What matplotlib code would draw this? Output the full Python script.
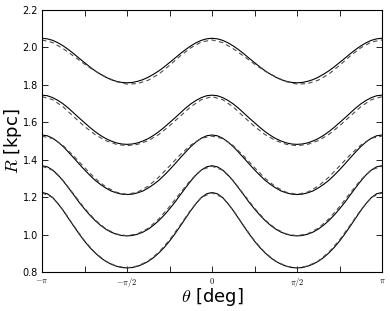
import numpy as np
import matplotlib
matplotlib.use("Agg")
import matplotlib.pyplot as plt

plt.rcParams['mathtext.fontset'] = 'cm'

# angle samples for the solid curves, -pi .. pi in steps of pi/32
theta = np.linspace(-np.pi, np.pi, 65)
# angle samples for the dashed curves, steps of pi/16
theta_d = np.linspace(-np.pi, np.pi, 33)

# solid curves, one period -pi .. 0 written out, then repeated to pi
r1_half = [2.049, 2.046, 2.038, 2.025, 2.008, 1.988, 1.966, 1.942, 1.919, 1.896, 1.875, 1.857, 1.841, 1.828, 1.819, 1.813,
           1.811, 1.813, 1.819, 1.828, 1.841, 1.857, 1.875, 1.896, 1.919, 1.942, 1.966, 1.988, 2.008, 2.025, 2.038, 2.046]
r2_half = [1.745, 1.742, 1.732, 1.717, 1.698, 1.675, 1.649, 1.623, 1.598, 1.573, 1.550, 1.530, 1.513, 1.500, 1.490, 1.484,
           1.482, 1.484, 1.490, 1.500, 1.513, 1.530, 1.550, 1.573, 1.598, 1.623, 1.649, 1.675, 1.698, 1.717, 1.732, 1.742]
r3_half = [1.532, 1.528, 1.515, 1.495, 1.470, 1.440, 1.409, 1.377, 1.346, 1.317, 1.290, 1.268, 1.249, 1.233, 1.223, 1.216,
           1.214, 1.216, 1.223, 1.233, 1.249, 1.268, 1.290, 1.317, 1.346, 1.377, 1.409, 1.440, 1.470, 1.495, 1.515, 1.528]
r4_half = [1.368, 1.362, 1.345, 1.319, 1.286, 1.249, 1.211, 1.172, 1.137, 1.104, 1.075, 1.050, 1.029, 1.013, 1.002, 0.995,
           0.993, 0.995, 1.002, 1.013, 1.029, 1.050, 1.075, 1.104, 1.137, 1.172, 1.211, 1.249, 1.286, 1.319, 1.345, 1.362]
r5_half = [1.225, 1.218, 1.198, 1.166, 1.128, 1.086, 1.044, 1.003, 0.965, 0.931, 0.902, 0.877, 0.857, 0.842, 0.831, 0.824,
           0.822, 0.824, 0.831, 0.842, 0.857, 0.877, 0.902, 0.931, 0.965, 1.003, 1.044, 1.086, 1.128, 1.166, 1.198, 1.218]

# dashed curves, -pi .. pi
d1 = [2.040, 2.026, 1.993, 1.953, 1.911, 1.873, 1.843, 1.817, 1.804, 1.807, 1.825, 1.858, 1.904, 1.954, 1.998, 2.029,
      2.040, 2.026, 1.993, 1.953, 1.911, 1.873, 1.843, 1.817, 1.804, 1.807, 1.825, 1.858, 1.904, 1.954, 1.998, 2.029, 2.040]
d2 = [1.737, 1.721, 1.682, 1.629, 1.578, 1.534, 1.502, 1.482, 1.475, 1.482, 1.502, 1.535, 1.581, 1.632, 1.683, 1.721,
      1.737, 1.721, 1.682, 1.629, 1.578, 1.534, 1.502, 1.482, 1.475, 1.482, 1.502, 1.535, 1.581, 1.632, 1.683, 1.721, 1.737]
d3 = [1.526, 1.513, 1.475, 1.419, 1.358, 1.300, 1.255, 1.226, 1.215, 1.227, 1.259, 1.307, 1.366, 1.426, 1.478, 1.515,
      1.526, 1.513, 1.475, 1.419, 1.358, 1.300, 1.255, 1.226, 1.215, 1.227, 1.259, 1.307, 1.366, 1.426, 1.478, 1.515, 1.526]
d4 = [1.365, 1.344, 1.288, 1.215, 1.141, 1.078, 1.031, 1.003, 0.994, 1.004, 1.034, 1.084, 1.149, 1.222, 1.292, 1.346,
      1.365, 1.344, 1.288, 1.215, 1.141, 1.078, 1.031, 1.003, 0.994, 1.004, 1.034, 1.084, 1.149, 1.222, 1.292, 1.346, 1.365]
d5 = [1.223, 1.198, 1.130, 1.046, 0.967, 0.903, 0.858, 0.831, 0.822, 0.832, 0.859, 0.906, 0.971, 1.050, 1.132, 1.199,
      1.223, 1.198, 1.130, 1.046, 0.967, 0.903, 0.858, 0.831, 0.822, 0.832, 0.859, 0.906, 0.971, 1.050, 1.132, 1.199, 1.223]

xtick_pos = np.linspace(-np.pi, np.pi, 9)
xtick_labels = [r'$-\pi$', '', r'$-\pi/2$', '', r'$0$', '', r'$\pi/2$', '', r'$\pi$']
ytick_pos = [0.8, 1.0, 1.2, 1.4, 1.6, 1.8, 2.0, 2.2]

fig = plt.figure(figsize=(3.9, 3.11), dpi=100)
ax = fig.add_axes([0.1077, 0.1254, 0.8718, 0.8424])

for h in [r1_half, r2_half, r3_half, r4_half, r5_half]:
    r = h + h + [h[0]]  # the curves repeat every pi
    ax.plot(theta, r, color='black', lw=0.8)
for d in [d1, d2, d3, d4, d5]:
    ax.plot(theta_d, d, color='0.3', lw=0.8, linestyle=(0, (4, 3)))

ax.set_xlim(-np.pi, np.pi)
ax.set_ylim(0.8, 2.2)
ax.set_xticks(xtick_pos)
ax.set_xticklabels(xtick_labels, fontsize=6)
ax.set_yticks(ytick_pos)
ax.set_yticklabels(['%.1f' % v for v in ytick_pos], fontsize=7)
ax.tick_params(direction='in', top=True, right=True, length=4, width=0.6, pad=3)

ax.set_xlabel(r'$\theta$ [deg]', fontsize=13, va='center')
ax.xaxis.set_label_coords(0.5, -0.095)
ax.set_ylabel(r'$R$ [kpc]', fontsize=13, va='center')
ax.yaxis.set_label_coords(-0.085, 0.5)

fig.savefig('out.png', dpi=100)
